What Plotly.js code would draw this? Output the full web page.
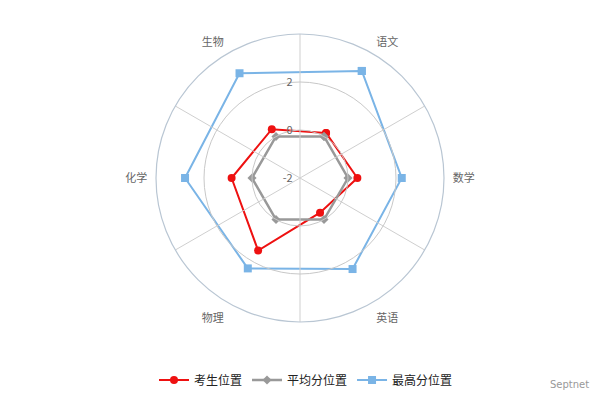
<!DOCTYPE html>
<html><head><meta charset="utf-8">
<script src="https://cdn.plot.ly/plotly-3.0.1.min.js"></script>
<style>html,body{margin:0;padding:0;background:#fff}</style>
</head><body><div id="chart" style="width:600px;height:400px"></div>
<script>
const categories = ['语文','数学','英语','物理','化学','生物'];
const studentPos = [0.17, 0.39, -0.33, 1.49, 0.85, 0.35];
const averagePos = [0, 0, 0, 0, 0, 0];
const maxPos = [3.15, 2.24, 2.38, 2.35, 2.79, 3.04];
const radialTicks = [-2, 0, 2, 4];
const radialTickText = ['-2', '0', '2', ''];
const seriesNames = ['考生位置', '平均分位置', '最高分位置'];

const close = a => a.concat([a[0]]);
const thetaC = close(categories);
const font = 'Noto Sans CJK SC, Noto Sans, sans-serif';

const traces = [
  {type:'scatterpolar', subplot:'polar', r: close(studentPos), theta: thetaC, name: seriesNames[0],
   mode:'lines+markers', line:{color:'#ee1111', width:2}, marker:{symbol:'circle', size:8, color:'#ee1111'}},
  {type:'scatterpolar', subplot:'polar', r: close(averagePos), theta: thetaC, name: seriesNames[1],
   mode:'lines+markers', line:{color:'#999999', width:2.5}, marker:{symbol:'diamond', size:7, color:'#999999'}},
  {type:'scatterpolar', subplot:'polar', r: close(maxPos), theta: thetaC, name: seriesNames[2],
   mode:'lines+markers', line:{color:'#7ab4e6', width:2}, marker:{symbol:'square', size:8, color:'#7ab4e6'}},
  {type:'scatterpolar', subplot:'polar2', r:[null], theta:[categories[0]], showlegend:false, hoverinfo:'skip'}
];

const dom = {x:[0.26,0.74], y:[0.195,0.915]};
const layout = {
  width:600, height:400,
  margin:{l:0,r:0,t:0,b:0},
  paper_bgcolor:'#fff',
  font:{family:font, color:'#666', size:11},
  showlegend:true,
  legend:{orientation:'h', x:0.51, xanchor:'center', y:0.05, yanchor:'middle',
          font:{family:font, size:12, color:'#222'}},
  polar2:{
    domain:dom, bgcolor:'rgba(0,0,0,0)',
    angularaxis:{type:'category', categoryarray:categories, rotation:90, direction:'clockwise',
      showticklabels:false, ticks:'', showgrid:true, gridcolor:'#cfcfcf', gridwidth:1,
      showline:true, linecolor:'#b9c6d3', linewidth:1.2},
    radialaxis:{range:[-2,4], tickvals:radialTicks, ticktext:radialTickText, showticklabels:true,
      angle:90, tickangle:90, side:'counterclockwise', ticks:'outside', ticklen:3, tickcolor:'rgba(0,0,0,0)',
      showline:false, showgrid:true, gridcolor:'#c8c8c8',
      tickfont:{size:11, color:'#666'}}
  },
  polar:{
    domain:dom, bgcolor:'rgba(0,0,0,0)',
    angularaxis:{type:'category', categoryarray:categories, rotation:60, direction:'clockwise',
      showticklabels:true, ticks:'outside', ticklen:6, tickcolor:'rgba(0,0,0,0)', showgrid:false, showline:false,
      tickfont:{size:11, color:'#666'}},
    radialaxis:{range:[-2,4], showticklabels:false, ticks:'', showline:false, showgrid:false}
  },
  annotations:[{text:'Septnet', x:0.985, y:0.02, xref:'paper', yref:'paper', xanchor:'right', yanchor:'bottom',
    showarrow:false, font:{size:10, color:'#999', family:'DejaVu Sans, sans-serif'}}]
};
Plotly.newPlot('chart', traces, layout, {displayModeBar:false, staticPlot:true});
</script></body></html>
